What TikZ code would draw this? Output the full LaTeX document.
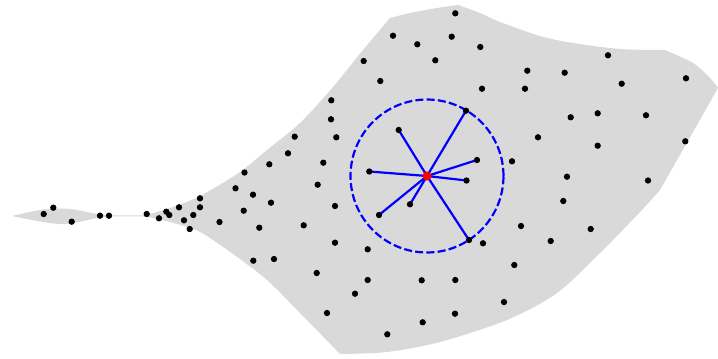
\documentclass[tikz,border=0pt]{standalone}
\usepackage{tikz}
\usetikzlibrary{calc}

\tikzset{
  surf/.style={fill=black!15},
  pt/.style={circle,fill=black,inner sep=0pt,minimum size=3.6pt},
  query/.style={circle,fill=red,inner sep=0pt,minimum size=5.2pt},
  nbr/.style={blue,line width=1.25pt},
  ball/.style={blue,line width=1.25pt,dash pattern=on 4.6pt off 1.8pt}
}

\begin{document}
\begin{tikzpicture}[x=0.02cm,y=-0.02cm]
\useasboundingbox (0,0) rectangle (718,359);
% the surface
\fill[surf] plot[smooth] coordinates {(12,216) (43,209.5) (70,209) (97,214) (110,215.3)}
  -- (145,215.3)
  -- plot[smooth] coordinates {(145,215.3) (170,208) (200,196) (240,172) (267,150) (300,123) (333,87) (363,50) (390,18)}
  -- plot[smooth] coordinates {(390,18) (410,13) (437,8) (458,5)}
  -- plot[smooth] coordinates {(458,5) (480,13) (500,22) (540,36) (573,43) (620,49) (665,50)}
  -- plot[smooth] coordinates {(665,50) (693,63) (710,78) (718,88)}
  -- (660,190)
  -- plot[smooth] coordinates {(660,190) (640,212) (600,253) (557,293) (507,320) (440,342) (387,352) (340,354)}
  -- plot[smooth] coordinates {(340,354) (300,313) (267,280) (233,254) (200,232) (170,222) (145,216.3)}
  -- (110,216.3)
  -- plot[smooth] coordinates {(110,216.3) (97,218) (67,224) (43,222) (12,216)} -- cycle;

% query point and its neighbourhood
\coordinate (q) at (427,176);
\coordinate (s1) at (398.7,130);
\coordinate (s2) at (369.3,171.5);
\coordinate (s3) at (379,215);
\coordinate (s4) at (410,204.3);
\coordinate (s5) at (466,110.7);
\coordinate (s6) at (477,160);
\coordinate (s7) at (466.5,180.5);
\coordinate (s8) at (469,240);
\draw[ball] (q) circle[radius=1.53cm];
\foreach \s in {s1,s2,s3,s4,s5,s6,s7,s8}
  \draw[nbr] (q) -- (\s);

% sample points
\foreach \x/\y in {43.7/214,53.3/207.7,71.7/221.7,100/215.7,109/215.7,146.7/214,159/218.3,
  166.3/211.7,169.3/215,179/207.3,184/220.3,189.7/229,193.3/215,200/198.3,200/207.3,
  219.5/222,235.5/188.3,244.5/172.5,253/194.7,271/202.7,243.7/210.7,259.3/227.7,
  303.7/225.3,317.7/184.7,335/206,335/242.7,367.7/249.3,253.3/260.7,274/259,
  316.7/273,367.7/280,421.7/280.3,455.3/280,355/293.7,327/313,422.7/322.3,455/313.7,
  387.3/334.3,455.3/13.3,393/35.7,451.7/36.7,417.3/44.3,363.7/61,435.3/60.3,
  380.3/81,331.3/100.3,331/119.3,294.7/136.7,336.3/137.3,288/153.3,269.3/164.3,
  323.3/162.7,480.3/47,608/55.3,527.3/70.7,564.7/72.7,686/78.3,482/88.7,525/88.7,
  621.7/83.7,570.7/117.3,597.7/113.3,646/115.3,538/137.3,597.7/145.7,685.3/141.3,
  512/161.3,567/176.7,648/180.5,563.3/201,521/226,590.7/229,483/243.3,550.7/241,
  514.3/265,504/302}
  \node[pt] at (\x,\y) {};
\foreach \s in {s1,s2,s3,s4,s5,s6,s7,s8}
  \node[pt] (d\s) at (\s) {};
\node[query] (qd) at (q) {};
\end{tikzpicture}
\end{document}
